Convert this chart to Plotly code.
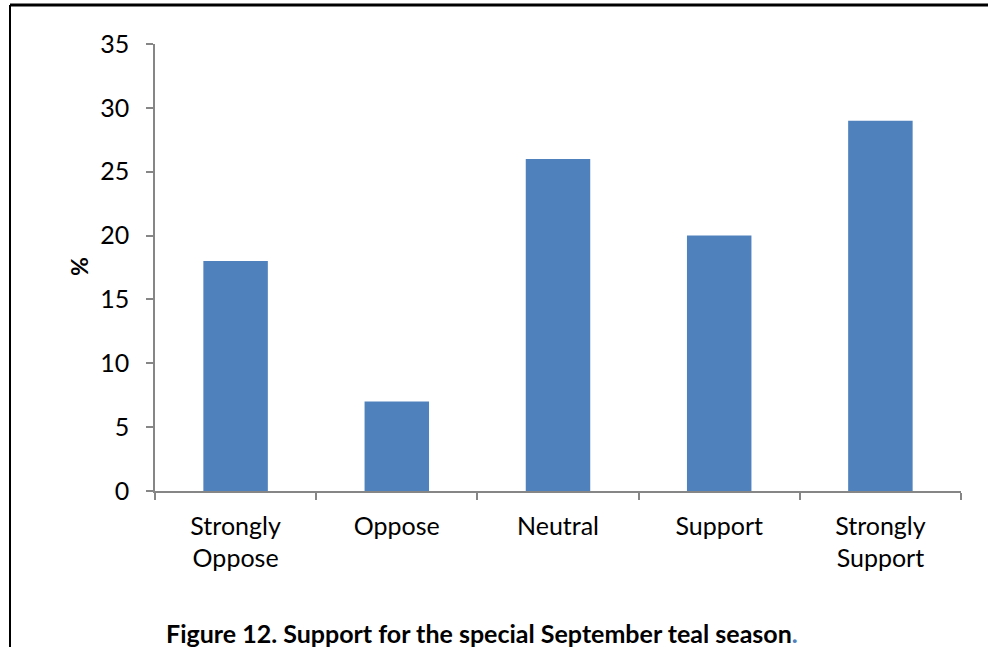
import plotly.graph_objects as go

categories = ["Strongly<br>Oppose", "Oppose", "Neutral", "Support", "Strongly<br>Support"]
values = [18, 7, 26, 20, 29]
y_ticks = [0, 5, 10, 15, 20, 25, 30, 35]

W, H = 988, 647
L, R, T, B = 155, 27, 44, 156
pw, ph = W - L - R, H - T - B

def px_x(px):
    return (px - L) / pw

def px_y(py):
    return (H - B - py) / ph

font = "Lato, 'Open Sans', sans-serif"
axis_col = "#868686"

fig = go.Figure(go.Bar(x=categories, y=values, marker_color="#4F81BD",
                       marker_line_width=0, width=0.4))

fig.update_layout(
    width=W, height=H,
    margin=dict(l=L, r=R, t=T, b=B, autoexpand=False),
    paper_bgcolor="white", plot_bgcolor="white",
    showlegend=False,
    font=dict(family=font, size=25, color="black"),
    xaxis=dict(showline=True, linecolor=axis_col, linewidth=1.5,
               ticks="outside", tickson="boundaries", ticklen=7, tickcolor=axis_col,
               tickwidth=1.5, showgrid=False, ticklabelstandoff=12,
               tickfont=dict(size=25, family=font)),
    yaxis=dict(range=[0, 35], tickvals=y_ticks, showline=True, linecolor=axis_col,
               linewidth=1.5, ticks="outside", ticklen=7, tickcolor=axis_col,
               tickwidth=1.5, showgrid=False, zeroline=False, ticklabelstandoff=12,
               tickfont=dict(size=25, family=font)),
    shapes=[
        dict(type="line", xref="paper", yref="paper", x0=px_x(10), x1=px_x(990),
             y0=px_y(5), y1=px_y(5), line=dict(color="black", width=3)),
        dict(type="line", xref="paper", yref="paper", x0=px_x(10), x1=px_x(10),
             y0=px_y(5), y1=px_y(650), line=dict(color="black", width=2)),
    ],
    annotations=[
        dict(text="<b>%</b>", xref="paper", yref="paper", x=px_x(79), y=px_y(267),
             textangle=-90, showarrow=False, font=dict(size=23, family=font),
             xanchor="center", yanchor="middle"),
        dict(text="<b>Figure 12. Support for the special September teal season</b>"
                  "<b><span style='color:#4F81BD'>.</span></b>",
             xref="paper", yref="paper", x=px_x(482), y=px_y(633), showarrow=False,
             font=dict(size=25, family=font), xanchor="center", yanchor="middle"),
    ],
)

fig.write_html("out.html", config={"displayModeBar": False},
               post_script="document.body.style.margin='0';document.body.style.overflow='hidden';")
